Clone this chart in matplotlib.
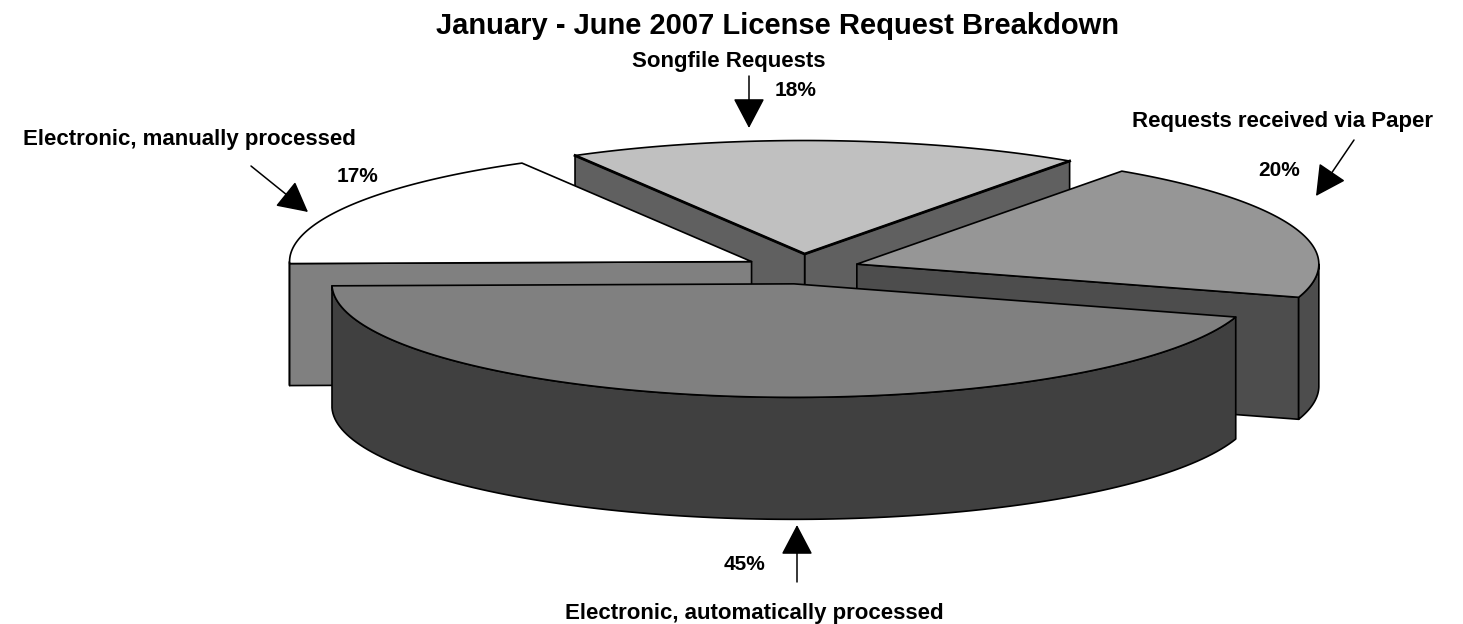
import numpy as np
import matplotlib
matplotlib.use('Agg')
import matplotlib.pyplot as plt
from matplotlib.patches import Polygon

plt.rcParams['font.family'] = ['Liberation Sans', 'DejaVu Sans']

# slices, counter clockwise from the back slice
labels = ['Songfile Requests', 'Electronic, manually processed',
          'Electronic, automatically processed', 'Requests received via Paper']
shares = [18, 17, 45, 20]
top_colors = ['#c0c0c0', '#ffffff', '#808080', '#969696']
side_colors = ['#606060', '#808080', '#404040', '#4d4d4d']

title = 'January - June 2007 License Request Breakdown'

# pie geometry in pixels
start_angle = 55
cx, cy = 802, 269
rx, ry = 462, 113.5
explode_x, explode_y = 58, 15
depth = 122

# back to front
draw_order = [0, 1, 3, 2]

fig = plt.figure(figsize=(14.63, 6.24), dpi=100, facecolor='white')
ax = fig.add_axes([0, 0, 1, 1])
ax.set_xlim(0, 1463)
ax.set_ylim(624, 0)
ax.axis('off')


def arc(x0, y0, t1, t2):
    t = np.radians(np.linspace(t1, t2, 120))
    return np.column_stack([x0 + rx * np.cos(t), y0 - ry * np.sin(t)])


def down(pts):
    return pts + np.array([0, depth])


def side(pts, color, z):
    ax.add_patch(Polygon(np.vstack([pts, down(pts)[::-1]]), closed=True, fc=color,
                         ec='black', lw=1.2, joinstyle='round', zorder=z))


edges = start_angle + np.cumsum([0] + shares) * 3.6

for z, i in enumerate(draw_order):
    t1, t2 = edges[i], edges[i + 1]
    mid = np.radians((t1 + t2) / 2)
    x0 = cx + explode_x * np.cos(mid)
    y0 = cy - explode_y * np.sin(mid)
    apex = np.array([[x0, y0]])
    outline = arc(x0, y0, t1, t2)

    if i == 0:
        # back slice shows both cut faces
        side(np.vstack([outline[:1], apex]), side_colors[i], z)
        side(np.vstack([apex, outline[-1:]]), side_colors[i], z)
    elif i == 1:
        side(arc(x0, y0, 180, t2), side_colors[i], z)
        side(np.vstack([outline[-1:], apex]), side_colors[i], z)
    elif i == 2:
        side(outline, side_colors[i], z)
    else:
        side(np.vstack([apex, outline[:1]]), side_colors[i], z)
        side(arc(x0, y0, t1, 360), side_colors[i], z)

    ax.add_patch(Polygon(np.vstack([apex, outline]), closed=True, fc=top_colors[i],
                         ec='black', lw=1.2, joinstyle='round', zorder=z + 0.5))
    if i == 0:
        ax.plot([outline[0, 0], x0, outline[-1, 0]], [outline[0, 1], y0, outline[-1, 1]],
                color='black', lw=2.0, zorder=z + 0.6)

txt = dict(fontweight='bold', color='black', ha='center', va='center', zorder=10)
ax.text(778, 26, title, fontsize=21, **txt)
ax.text(729, 61, labels[0], fontsize=16, **txt)
ax.text(189, 140, labels[1], fontsize=16, **txt)
ax.text(754, 614, labels[2], fontsize=16, **txt)
ax.text(1282, 121, labels[3], fontsize=16, **txt)

ax.text(796, 90, '%d%%' % shares[0], fontsize=15, **txt)
ax.text(358, 177, '%d%%' % shares[1], fontsize=15, **txt)
ax.text(745, 565, '%d%%' % shares[2], fontsize=15, **txt)
ax.text(1279, 171, '%d%%' % shares[3], fontsize=15, **txt)

arrow = dict(arrowstyle='-|>,head_length=0.95,head_width=0.5', mutation_scale=20,
             shrinkA=0, shrinkB=0, lw=1.1, color='black')
ax.annotate('', xy=(749, 128), xytext=(749, 76), arrowprops=arrow, zorder=10)
ax.annotate('', xy=(308, 212), xytext=(251, 166), arrowprops=arrow, zorder=10)
ax.annotate('', xy=(1316, 196), xytext=(1354, 140), arrowprops=arrow, zorder=10)
ax.annotate('', xy=(797, 525), xytext=(797, 582), arrowprops=arrow, zorder=10)

plt.savefig('out.png', dpi=100, facecolor='white')
